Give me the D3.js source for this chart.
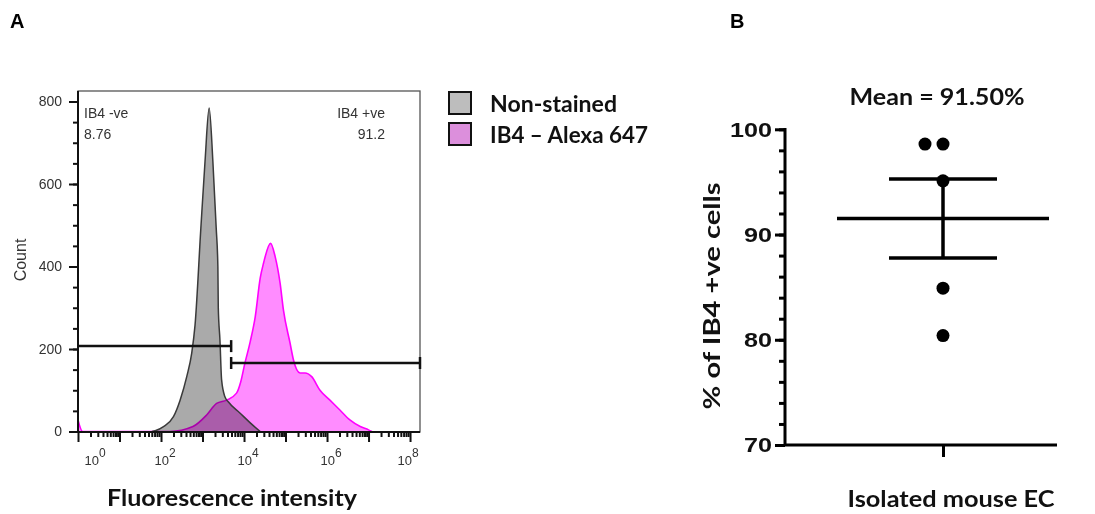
<!DOCTYPE html>
<html>
<head>
<meta charset="utf-8">
<script src="https://cdn.jsdelivr.net/npm/d3@7"></script>
<style>
  body { margin: 0; background: #fff; }
  svg { display: block; }
</style>
</head>
<body>
<div id="chart"></div>
<script>
// ---------------------------------------------------------------------------
// Data
// ---------------------------------------------------------------------------

// Panel A: flow histograms, [log10 fluorescence, count]
const nonStained = [
  [1.78, 0], [1.86, 2], [2.06, 12], [2.30, 36], [2.46, 76], [2.62, 133], [2.74, 190],
  [2.82, 258], [2.96, 493], [3.06, 654], [3.16, 784], [3.25, 654], [3.33, 493],
  [3.37, 400], [3.38, 300], [3.42, 222], [3.46, 125], [3.54, 84], [3.62, 72],
  [3.90, 45], [4.15, 21], [4.39, 0]
];
const ib4Alexa = [
  [0.00, 28], [0.11, 0], [2.22, 0], [2.77, 12], [3.10, 40], [3.34, 68], [3.58, 76],
  [3.82, 93], [3.92, 120], [4.02, 165], [4.15, 218], [4.27, 278], [4.39, 372],
  [4.47, 408], [4.64, 456], [4.75, 424], [4.87, 359], [4.95, 294], [5.11, 214],
  [5.19, 174], [5.35, 142], [5.47, 142], [5.63, 133], [5.83, 100], [6.07, 76],
  [6.31, 52], [6.55, 28], [6.80, 12], [7.00, 4], [7.08, 0]
];
const countTicks = [0, 200, 400, 600, 800];
const decadeLabels = [0, 2, 4, 6, 8];
const seriesNames = ["Non-stained", "IB4 \u2013 Alexa 647"];

// gates: name, percent, [from, to] in log10, bar level in counts
const gateNames = ["IB4 -ve", "IB4 +ve"];
const gatePercents = ["8.76", "91.2"];
const gateBounds = [[0, 3.69], [3.69, 8.24]];
const gateLevels = [207, 166];

// Panel B: % of IB4+ve cells
const category = "Isolated mouse EC";
const percentValues = [98.6, 98.6, 95.1, 84.9, 80.4];
const percentTicks = [70, 80, 90, 100];

// ---------------------------------------------------------------------------
// Canvas
// ---------------------------------------------------------------------------
const W = 1095, H = 514;
const svg = d3.select("#chart").append("svg")
  .attr("width", W).attr("height", H)
  .style("background", "#fff");

const calibri = "Lato, 'Open Sans', sans-serif";
const arial = "'Liberation Sans', Arial, sans-serif";

svg.append("text").attr("x", 10).attr("y", 28).text("A")
  .style("font", "bold 20px " + arial);
svg.append("text").attr("x", 730).attr("y", 28).text("B")
  .style("font", "bold 20px " + arial);

// ---------------------------------------------------------------------------
// Panel A
// ---------------------------------------------------------------------------
const a = {left: 78, right: 420, top: 91, bottom: 432};

const x = d3.scaleLog()
  .domain([1, Math.pow(10, 8.24)])
  .range([a.left, a.right]);
const y = d3.scaleLinear()
  .domain([0, 800])
  .range([431.5, 101.5]);

const area = d3.area()
  .x(d => x(Math.pow(10, d[0])))
  .y0(y(0))
  .y1(d => y(d[1]))
  .curve(d3.curveMonotoneX);
const line = d3.line()
  .x(d => x(Math.pow(10, d[0])))
  .y(d => y(d[1]))
  .curve(d3.curveMonotoneX);

const gA = svg.append("g");

gA.append("path").datum(ib4Alexa)
  .attr("d", area).attr("fill", "#ff8cff");
gA.append("path").datum(nonStained)
  .attr("d", area).attr("fill", "#aaaaaa")
  .style("mix-blend-mode", "multiply");
gA.append("path").datum(ib4Alexa)
  .attr("d", line).attr("fill", "none")
  .attr("stroke", "#ff00ff").attr("stroke-width", 1.6)
  .style("mix-blend-mode", "multiply");
gA.append("path").datum(nonStained)
  .attr("d", line).attr("fill", "none")
  .attr("stroke", "#3a3a3a").attr("stroke-width", 1.5);

// frame
gA.append("rect")
  .attr("x", a.left).attr("y", a.top)
  .attr("width", a.right - a.left).attr("height", a.bottom - a.top)
  .attr("fill", "none").attr("stroke", "#555").attr("stroke-width", 1.3);

// y axis
const yMinor = gA.append("g").attr("transform", `translate(${a.left},0)`)
  .call(d3.axisLeft(y).tickValues(d3.range(0, 801, 50)).tickSize(5).tickFormat(""));
const yMajor = gA.append("g").attr("transform", `translate(${a.left},0)`)
  .call(d3.axisLeft(y).tickValues(countTicks).tickSize(9).tickPadding(7));
[yMinor, yMajor].forEach(g => {
  g.select(".domain").remove();
  g.selectAll("line").attr("stroke", "#111").attr("stroke-width", 2);
});
yMajor.selectAll("text")
  .style("font", "14px " + arial).attr("fill", "#333");
gA.append("line")
  .attr("x1", a.left).attr("x2", a.left).attr("y1", a.top).attr("y2", a.bottom + 1)
  .attr("stroke", "#111").attr("stroke-width", 2);

gA.append("text")
  .attr("transform", `translate(26,260) rotate(-90)`)
  .attr("text-anchor", "middle")
  .style("font", "16px " + arial).attr("fill", "#333")
  .text("Count");

// x axis
const minorVals = [];
d3.range(0, 9).forEach(dec => {
  d3.range(2, 10).forEach(m => {
    const v = m * Math.pow(10, dec);
    if (v <= x.domain()[1]) minorVals.push(v);
  });
});
const xMinor = gA.append("g").attr("transform", `translate(0,${a.bottom})`)
  .call(d3.axisBottom(x).tickValues(minorVals).tickSize(5).tickFormat(""));
const xMajor = gA.append("g").attr("transform", `translate(0,${a.bottom})`)
  .call(d3.axisBottom(x).tickValues(d3.range(0, 9).map(d => Math.pow(10, d)))
    .tickSize(10).tickFormat(""));
[xMinor, xMajor].forEach(g => {
  g.select(".domain").remove();
  g.selectAll("line").attr("stroke", "#111").attr("stroke-width", 2);
});
gA.append("line")
  .attr("x1", a.left - 1).attr("x2", a.right).attr("y1", a.bottom).attr("y2", a.bottom)
  .attr("stroke", "#111").attr("stroke-width", 2);

const decLab = gA.selectAll(".declab").data(decadeLabels).join("text")
  .attr("class", "declab")
  .attr("x", d => Math.min(Math.max(x(Math.pow(10, d)) + 4, 95), 408))
  .attr("y", 465)
  .attr("text-anchor", "middle")
  .style("font", "13px " + arial).attr("fill", "#333");
decLab.append("tspan").text("10");
decLab.append("tspan").attr("dy", -8).style("font-size", "12px").text(d => d);

gA.append("text")
  .attr("x", 232).attr("y", 506)
  .attr("text-anchor", "middle")
  .attr("textLength", 250).attr("lengthAdjust", "spacingAndGlyphs")
  .style("font", "bold 23px " + calibri).attr("fill", "#111")
  .text("Fluorescence intensity");

// gates
gateBounds.forEach((b, i) => {
  const x0 = x(Math.pow(10, b[0])), x1 = x(Math.pow(10, b[1])), yy = y(gateLevels[i]);
  const g = gA.append("g").attr("stroke", "#111").attr("stroke-width", 2.5);
  g.append("line").attr("x1", x0).attr("x2", x1).attr("y1", yy).attr("y2", yy);
  if (i > 0) g.append("line").attr("x1", x0).attr("x2", x0).attr("y1", yy - 6).attr("y2", yy + 6);
  g.append("line").attr("x1", x1).attr("x2", x1).attr("y1", yy - 6).attr("y2", yy + 6);
});
gateNames.forEach((n, i) => {
  const right = i > 0;
  const tx = right ? 385 : 84;
  const t = gA.append("text")
    .attr("text-anchor", right ? "end" : "start")
    .style("font", "14px " + arial).attr("fill", "#333");
  t.append("tspan").attr("x", tx).attr("y", 118).text(n);
  t.append("tspan").attr("x", tx).attr("y", 139).text(gatePercents[i]);
});

// legend
const legendFill = ["#bdbdbd", "#dc8fdc"];
const legendWidth = [127, 158];
const leg = svg.append("g");
seriesNames.forEach((n, i) => {
  leg.append("rect")
    .attr("x", 449).attr("y", 92 + i * 31).attr("width", 22).attr("height", 22)
    .attr("fill", legendFill[i]).attr("stroke", "#111").attr("stroke-width", 2);
  leg.append("text")
    .attr("x", 490).attr("y", 112 + i * 31)
    .attr("textLength", legendWidth[i]).attr("lengthAdjust", "spacingAndGlyphs")
    .style("font", "bold 22px " + calibri).attr("fill", "#111")
    .text(n);
});

// ---------------------------------------------------------------------------
// Panel B
// ---------------------------------------------------------------------------
const b = {left: 785, right: 1057, top: 129, bottom: 445};
const yB = d3.scaleLinear().domain([70, 100]).range([445, 129.3]);
const xB = d3.scalePoint().domain([category]).range([785, 1101]);

const gB = svg.append("g");

const yBMinor = gB.append("g").attr("transform", `translate(${b.left},0)`)
  .call(d3.axisLeft(yB).tickValues(d3.range(70, 101, 2)).tickSize(6).tickFormat(""));
const yBMajor = gB.append("g").attr("transform", `translate(${b.left},0)`)
  .call(d3.axisLeft(yB).tickValues(percentTicks).tickSize(10).tickPadding(3));
[yBMinor, yBMajor].forEach(g => {
  g.select(".domain").remove();
  g.selectAll("line").attr("stroke", "#000").attr("stroke-width", 3);
});
yBMajor.selectAll("text")
  .attr("textLength", d => String(d).length * 14)
  .attr("lengthAdjust", "spacingAndGlyphs")
  .style("font", "bold 21px " + arial).attr("fill", "#111");

const xBAxis = gB.append("g").attr("transform", `translate(0,${b.bottom})`)
  .call(d3.axisBottom(xB).tickSize(12).tickFormat(""));
xBAxis.select(".domain").remove();
xBAxis.selectAll("line").attr("stroke", "#000").attr("stroke-width", 3);

gB.append("path")
  .attr("d", `M${b.left},${b.top - 1}V${b.bottom}H${b.right}`)
  .attr("fill", "none").attr("stroke", "#000").attr("stroke-width", 3);

// mean and SEM
const mean = d3.mean(percentValues);
const sem = d3.deviation(percentValues) / Math.sqrt(percentValues.length);
const cx = xB(category);
const gS = gB.append("g").attr("stroke", "#000").attr("stroke-width", 3.5);
gS.append("line").attr("x1", cx - 106).attr("x2", cx + 106)
  .attr("y1", yB(mean)).attr("y2", yB(mean));
[mean + sem, mean - sem].forEach(v => {
  gS.append("line").attr("x1", cx - 54).attr("x2", cx + 54)
    .attr("y1", yB(v)).attr("y2", yB(v));
});
gS.append("line").attr("x1", cx).attr("x2", cx)
  .attr("y1", yB(mean + sem)).attr("y2", yB(mean - sem));

// points, duplicates dodged to the left
const groups = d3.group(percentValues.map((v, i) => ({v, i})), d => d.v);
const pts = [];
groups.forEach(arr => arr.forEach((d, k) => pts.push({v: d.v, off: (k - (arr.length - 1)) * 18})));
gB.selectAll(".pt").data(pts).join("circle")
  .attr("class", "pt")
  .attr("cx", d => cx + d.off)
  .attr("cy", d => yB(d.v))
  .attr("r", 6.5)
  .attr("fill", "#000");

gB.append("text")
  .attr("x", 937).attr("y", 105)
  .attr("text-anchor", "middle")
  .attr("textLength", 175).attr("lengthAdjust", "spacingAndGlyphs")
  .style("font", "bold 22px " + calibri).attr("fill", "#111")
  .text("Mean = " + d3.format(".2f")(Math.round(mean * 2) / 2) + "%");

gB.append("text")
  .attr("transform", `translate(720,296) rotate(-90)`)
  .attr("text-anchor", "middle")
  .attr("textLength", 227).attr("lengthAdjust", "spacingAndGlyphs")
  .style("font", "bold 23px " + calibri).attr("fill", "#111")
  .text("% of IB4 +ve cells");

gB.append("text")
  .attr("x", 951).attr("y", 507)
  .attr("text-anchor", "middle")
  .attr("textLength", 207).attr("lengthAdjust", "spacingAndGlyphs")
  .style("font", "bold 22px " + calibri).attr("fill", "#111")
  .text(category);
</script>
</body>
</html>
